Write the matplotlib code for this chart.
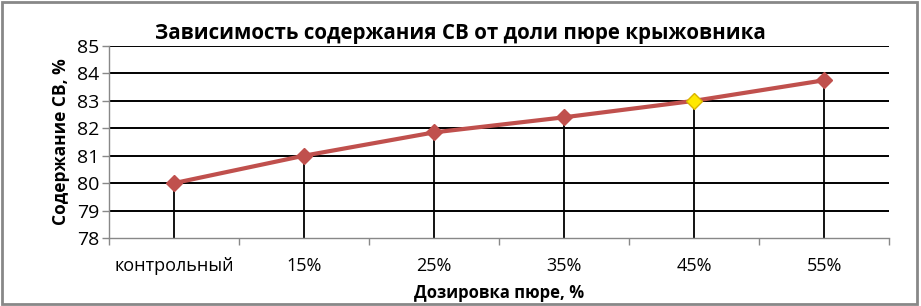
import matplotlib.pyplot as plt
from matplotlib.patches import Rectangle

categories = ["контрольный", "15%", "25%", "35%", "45%", "55%"]
values = [80.0, 81.0, 81.85, 82.4, 83.0, 83.75]
highlight = 4  # 45% point drawn yellow

plt.rcParams['font.family'] = ['Open Sans', 'DejaVu Sans']

fig = plt.figure(figsize=(9.21, 3.06), dpi=100)
ax = fig.add_axes([109 / 921, 1 - 238 / 306, 780 / 921, 192 / 306])

x = list(range(len(categories)))
ax.set_xlim(-0.5, len(categories) - 0.5)
ax.set_ylim(78, 85)

for yv in range(79, 86):
    ax.axhline(yv, color="black", lw=1.4, zorder=1)

ax.vlines(x, 78, values, color="black", lw=1.3, zorder=2)

red = "#C0504D"
ax.plot(x, values, color=red, lw=3, zorder=3)
for i, (xi, yi) in enumerate(zip(x, values)):
    if i == highlight:
        ax.plot(xi, yi, marker="D", ms=8, color="#FFE800", mec="#D9B300", mew=1, zorder=4)
    else:
        ax.plot(xi, yi, marker="D", ms=8, color=red, mec=red, zorder=4)

ax.set_yticks(range(78, 86))
ax.set_xticks([i - 0.5 for i in range(len(categories) + 1)])
ax.set_xticklabels([])
ax.set_xticks(x, minor=True)
ax.set_xticklabels(categories, minor=True)
ax.tick_params(axis="x", which="major", length=5, color="#888888", width=1)
ax.tick_params(axis="x", which="minor", length=0, pad=14, labelsize=13)
ax.tick_params(axis="y", length=5, color="#888888", width=1, labelsize=14, pad=2)

for s in ["top", "right"]:
    ax.spines[s].set_visible(False)
for s in ["left", "bottom"]:
    ax.spines[s].set_color("#888888")
    ax.spines[s].set_linewidth(1)

ax.set_xlabel("Дозировка пюре, %", fontsize=12, fontweight="bold", labelpad=6)
ax.set_ylabel("Содержание СВ, %", fontsize=12.5, fontweight="bold", labelpad=5)
fig.text(0.5, 1 - 33 / 306, "Зависимость содержания СВ от доли пюре крыжовника",
         ha="center", va="center", fontsize=14.8, fontweight="bold")

fig.patches.append(Rectangle((0.002, 0.005), 0.994, 0.99, transform=fig.transFigure,
                             fill=False, edgecolor="#888888", lw=2))

fig.savefig("out.png", dpi=100)
